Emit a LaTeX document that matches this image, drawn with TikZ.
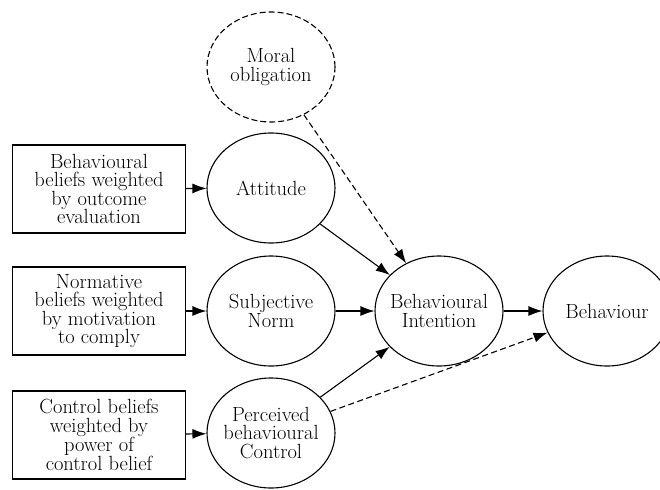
\documentclass[tikz,border=0pt]{standalone}
\usepackage{fontspec}
\usetikzlibrary{shapes.geometric}
\usetikzlibrary{arrows.meta}

\begin{document}
\begin{tikzpicture}[x=1pt, y=-1pt, -{Latex[length=14pt, width=10pt]}, align=center,
  font=\fontsize{20.5}{18.5}\selectfont, line width=1.1pt]
\tikzstyle{v} = [ellipse, draw=black, minimum width=128pt, minimum height=110pt, inner xsep=-12pt, inner ysep=0pt]
\tikzstyle{vh} = [v, dash pattern=on 6pt off 3pt]
\tikzstyle{b} = [rectangle, draw=black, minimum width=173pt, minimum height=88pt, inner sep=0pt]
\tikzstyle{e} = [draw=black]
\tikzstyle{eh} = [draw=black, dash pattern=on 6pt off 3.5pt]

\useasboundingbox (0,0) rectangle (660,489);

\node[vh](M) at (271, 67) {Moral\\obligation};
\node[v](A) at (271, 188) {Attitude};
\node[v](N) at (271, 311) {Subjective\\Norm};
\node[v](P) at (271, 433) {Perceived\\behavioural\\Control};
\node[v](I) at (439, 311) {Behavioural\\Intention};
\node[v](B) at (607, 311) {Behaviour};

\node[b](Ab) at (99, 189) {Behavioural\\beliefs weighted\\by outcome\\evaluation};
\node[b](Nb) at (99, 311) {Normative\\beliefs weighted\\by motivation\\to comply};
\node[b](Pb) at (99, 435) {Control beliefs\\weighted by\\power of\\control belief};

\draw[e] (Ab) to (A);
\draw[e] (Nb) to (N);
\draw[e] (Pb) to (P);
\draw[e] (A) to (I);
\draw[e] (N) to (I);
\draw[e] (P) to (I);
\draw[eh] (M) to (I);
\draw[e] (I) to (B);
\draw[eh] (P) to (B);
\end{tikzpicture}
\end{document}
